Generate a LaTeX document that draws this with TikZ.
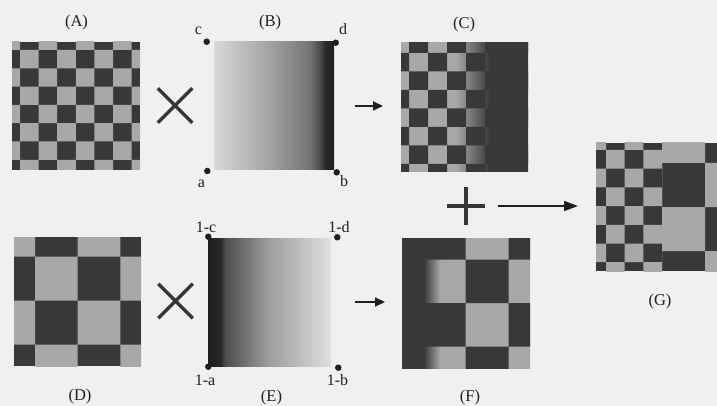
\documentclass[tikz,border=0pt]{standalone}
\usepackage{fontspec}
\setmainfont{Liberation Serif}
\usetikzlibrary{arrows.meta,shapes.misc}
\definecolor{paper}{gray}{0.94}
\definecolor{dk}{gray}{0.22}
\definecolor{lt}{gray}{0.66}
\definecolor{ink}{gray}{0.12}
\definecolor{gb0}{gray}{0.85}
\definecolor{gb1}{gray}{0.62}
\definecolor{gb2}{gray}{0.45}
\definecolor{gb3}{gray}{0.30}
\definecolor{gb4}{gray}{0.16}
\definecolor{gb5}{gray}{0.12}
\definecolor{ge1}{gray}{0.80}
\definecolor{ge0}{gray}{0.88}
\pgfdeclarehorizontalshading{fadeA}{100bp}{color(0bp)=(lt); color(46.5bp)=(lt); color(60bp)=(dk); color(100bp)=(dk)}
\pgfdeclarehorizontalshading{fadeD}{100bp}{color(0bp)=(dk); color(33.5bp)=(dk); color(40bp)=(lt); color(100bp)=(lt)}
\pgfdeclarehorizontalshading{gradB}{100bp}{color(0bp)=(gb0); color(25bp)=(gb0); color(50bp)=(gb1); color(65bp)=(gb2); color(69bp)=(gb3); color(71.5bp)=(gb4); color(75bp)=(gb5); color(100bp)=(gb5)}
\pgfdeclarehorizontalshading{gradE}{100bp}{color(0bp)=(gb5); color(25bp)=(gb5); color(30bp)=(gb4); color(32bp)=(gb3); color(50bp)=(gb1); color(67.5bp)=(ge1); color(75bp)=(ge0); color(100bp)=(ge0)}
% checker cells: ox oy px py parity nj nk
\newcommand\chkcells[7]{\foreach \jj in {0,...,#6} {\foreach \kk [evaluate={\kk as \ii using int(2*\kk+mod(\jj+#5,2))}] in {0,...,#7} {({#1+\ii*#3},{#2+\jj*#4}) rectangle ++(#3,#4)}}}
\begin{document}
\begin{tikzpicture}[x=1pt,y=-1pt,
  sq/.style={rectangle,inner sep=0pt,outer sep=0pt,draw=none},
  dot/.style={circle,fill=ink,inner sep=0pt,minimum size=6.5pt},
  big/.style={font=\fontsize{16.5}{20}\selectfont,text=ink,inner sep=0pt},
  small/.style={font=\fontsize{16}{19}\selectfont,text=ink,inner sep=0pt,anchor=base},
  op/.style={cross out,draw=ink!90,inner sep=0pt},
  arr/.style={draw=ink,line width=2pt,-{Triangle[length=10pt,width=9pt]}}]
\fill[paper] (0,0) rectangle (717,406);
\useasboundingbox (0,0) rectangle (717,406);
% squares
\node[sq,minimum width=128pt,minimum height=128pt] (A) at (76,106) {};
\node[sq,minimum width=120pt,minimum height=128pt] (B) at (274,106) {};
\node[sq,minimum width=127pt,minimum height=129pt] (C) at (464.5,107.5) {};
\node[sq,minimum width=127pt,minimum height=129pt] (D) at (77.5,301.5) {};
\node[sq,minimum width=123pt,minimum height=128pt] (E) at (269.5,302) {};
\node[sq,minimum width=128pt,minimum height=130pt] (F) at (466,303) {};
\node[sq,minimum width=121pt,minimum height=128pt] (G) at (656.5,207) {};
\coordinate (Gm) at (662,207);
% A
\begin{scope}
  \clip (A.north west) rectangle (A.south east);
  \fill[dk] (A.north west) rectangle (A.south east);
  \fill[lt] \chkcells{1.4}{31.7}{18.6}{18.3}{0}{8}{4};
\end{scope}
% D
\begin{scope}
  \clip (D.north west) rectangle (D.south east);
  \fill[dk] (D.north west) rectangle (D.south east);
  \fill[lt] \chkcells{-7.7}{212.7}{42.7}{44}{0}{3}{2};
\end{scope}
% B and E
\shade[shading=gradB] (B.north west) rectangle (B.south east);
\shade[shading=gradE] (E.north west) rectangle (E.south east);
% C
\begin{scope}
  \clip (C.north west) rectangle (C.south east);
  \shade[shading=fadeA] (C.north west) rectangle (C.south east);
  \fill[dk] \chkcells{390}{34.5}{19}{18.5}{1}{8}{4};
\end{scope}
% F
\begin{scope}
  \clip (F.north west) rectangle (F.south east);
  \shade[shading=fadeD] (F.north west) rectangle (F.south east);
  \fill[dk] \chkcells{379.6}{216}{43}{43.5}{1}{3}{2};
\end{scope}
% G: fine checker on the left, coarse on the right
\fill[dk] (G.north west) rectangle (G.south east);
\begin{scope}
  \clip (G.north west) rectangle (Gm |- G.south);
  \fill[lt] \chkcells{587.3}{131.3}{18.7}{18.7}{0}{8}{4};
\end{scope}
\begin{scope}
  \clip (Gm |- G.north) rectangle (G.south east);
  \fill[lt] \chkcells{576}{119}{43}{44}{0}{3}{2};
\end{scope}
% corner dots
\node[dot] (c) at (206.7,41.7) {};
\node[dot] (d) at (335.7,42.7) {};
\node[dot] (a) at (207.3,171) {};
\node[dot] (b) at (336.7,172.3) {};
\node[dot] (c1) at (208.3,236.7) {};
\node[dot] (d1) at (337.3,237.3) {};
\node[dot] (a1) at (208.3,366.7) {};
\node[dot] (b1) at (338.3,367.7) {};
% corner labels
\node[small] (lc) at (198.5,35) {c};
\node[small] (ld) at (343,35) {d};
\node[small] (la) at (201.5,188) {a};
\node[small] (lb) at (344,187) {b};
\node[small] (lc1) at (206,232) {1-c};
\node[small] (ld1) at (339,232) {1-d};
\node[small] (la1) at (205,385) {1-a};
\node[small] (lb1) at (337.5,385) {1-b};
% titles
\node[big] (tA) at (76.5,23) {(A)};
\node[big] (tB) at (270,23) {(B)};
\node[big] (tC) at (464,25) {(C)};
\node[big] (tD) at (80,397) {(D)};
\node[big] (tE) at (271.5,398) {(E)};
\node[big] (tF) at (470,398) {(F)};
\node[big] (tG) at (660,301.5) {(G)};
% operators
\node[op,minimum size=31pt,line width=3.5pt] (x1) at (175,105.5) {};
\node[op,minimum size=31pt,line width=3.5pt] (x2) at (175.5,301) {};
\node[op,minimum size=22.6pt,line width=4pt,rotate=45] (P) at (466,206) {};
% arrows
\draw[arr,shorten <=21pt,shorten >=18pt] (B.east) -- (B.east -| C.west);
\draw[arr,shorten <=24pt,shorten >=17pt] (E.east) -- (E.east -| F.west);
\draw[arr,-{Triangle[length=14pt,width=10pt]},shorten <=32pt,shorten >=18pt] (P.center) -- (P.center -| G.west);
\end{tikzpicture}
\end{document}
